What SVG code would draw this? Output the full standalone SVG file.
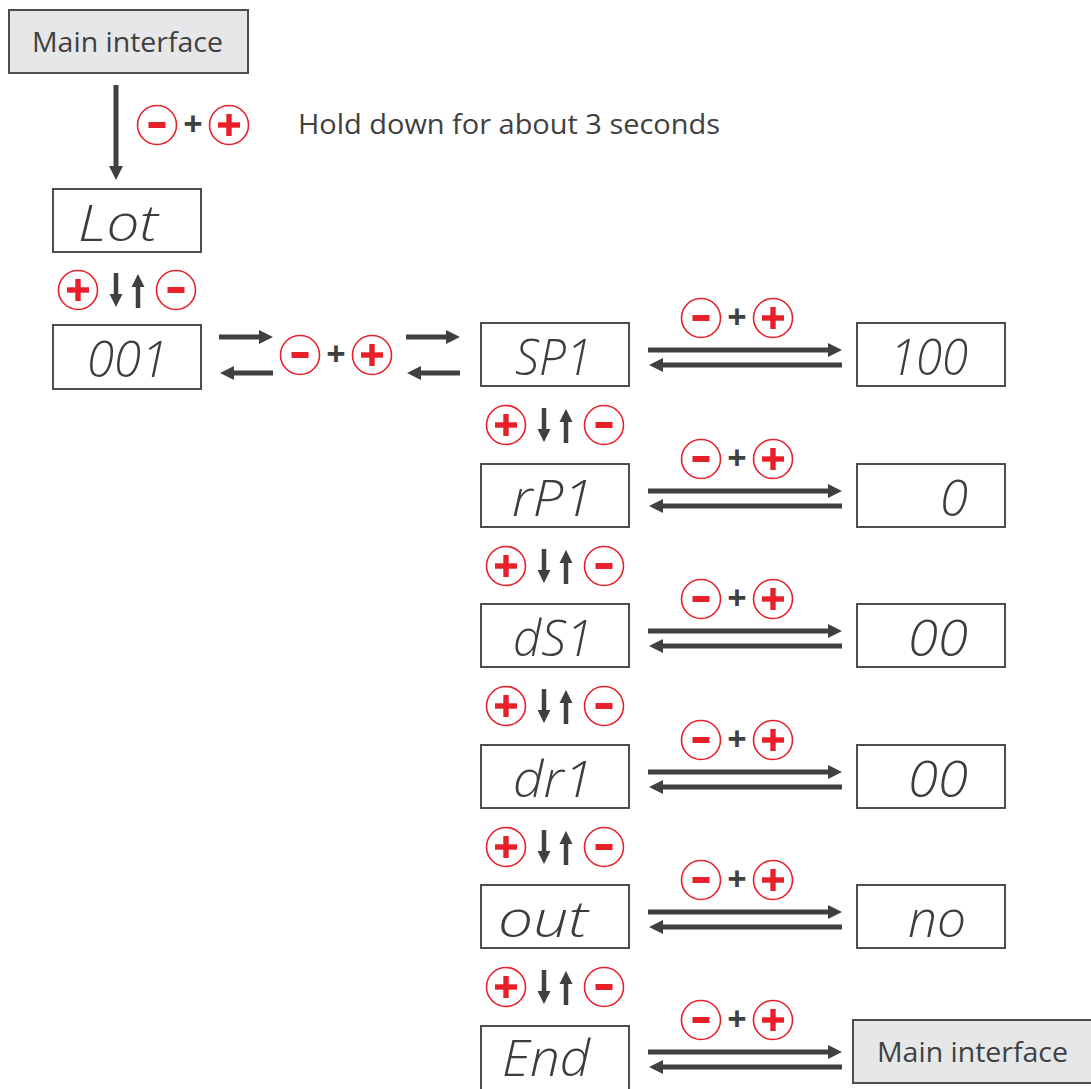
<svg xmlns="http://www.w3.org/2000/svg" xmlns:xlink="http://www.w3.org/1999/xlink" width="1091" height="1089" viewBox="0 0 1091 1089">
<style>
.main{fill:#e6e7e9;stroke:#4d4d4d;stroke-width:2}
.box{fill:#fff;stroke:#4d4d4d;stroke-width:2}
.mt{font-family:"Open Sans","Noto Sans","Liberation Sans",sans-serif;font-size:28px;fill:#404040}
.hold{font-family:"Open Sans","Noto Sans","Liberation Sans",sans-serif;font-size:27px;fill:#404040}
.seg{font-family:"Open Sans","Liberation Sans",sans-serif;font-style:italic;font-weight:300;font-size:50px;fill:#3d3d3d}
.plus{font-family:"Open Sans","Liberation Sans",sans-serif;font-weight:bold;font-size:34px;fill:#404040}
.ar{stroke:#404040;stroke-width:5;fill:none}
.ars{stroke:#404040;stroke-width:4.5;fill:none}
</style>
<defs>
<marker id="ah" viewBox="0 0 14 14" refX="1" refY="7" markerWidth="14" markerHeight="14" markerUnits="userSpaceOnUse" orient="auto">
<path d="M0,0 L14,7 L0,14 z" fill="#404040"/>
</marker>
<marker id="ahs" viewBox="0 0 14 14" refX="1" refY="7" markerWidth="13" markerHeight="14" markerUnits="userSpaceOnUse" orient="auto">
<path d="M0,0 L14,7 L0,14 z" fill="#404040"/>
</marker>
<g id="bm">
<circle r="19.5" fill="#fff" stroke="#e8202a" stroke-width="1.6"/>
<rect x="-8.5" y="-3" width="17" height="6" fill="#e8202a"/>
</g>
<g id="bp">
<circle r="19.5" fill="#fff" stroke="#e8202a" stroke-width="1.6"/>
<rect x="-11" y="-2.7" width="22" height="5.4" fill="#e8202a"/>
<rect x="-2.7" y="-11" width="5.4" height="22" fill="#e8202a"/>
</g>
<g id="combo">
<use href="#bm" x="-36" y="0"/>
<text class="plus" x="0" y="11" text-anchor="middle">+</text>
<use href="#bp" x="36" y="0"/>
</g>
<g id="updown">
<use href="#bp" x="-49" y="0"/>
<line class="ars" x1="-11" y1="-17" x2="-11" y2="5" marker-end="url(#ahs)"/>
<line class="ars" x1="11" y1="18" x2="11" y2="-4" marker-end="url(#ahs)"/>
<use href="#bm" x="49" y="0"/>
</g>
<g id="dbl">
<line class="ar" x1="648" y1="0" x2="829" y2="0" marker-end="url(#ah)"/>
<line class="ar" x1="842" y1="15" x2="662" y2="15" marker-end="url(#ah)"/>
</g>
</defs>

<g id="connectors">
<line class="ar" x1="116" y1="85" x2="116" y2="167" marker-end="url(#ah)"/>
<line class="ar" x1="219" y1="337" x2="260" y2="337" marker-end="url(#ah)"/>
<line class="ar" x1="273" y1="373" x2="233" y2="373" marker-end="url(#ah)"/>
<line class="ar" x1="406" y1="337" x2="447" y2="337" marker-end="url(#ah)"/>
<line class="ar" x1="460" y1="373" x2="420" y2="373" marker-end="url(#ah)"/>
<use href="#dbl" x="0" y="350"/>
<use href="#dbl" x="0" y="491"/>
<use href="#dbl" x="0" y="631"/>
<use href="#dbl" x="0" y="772"/>
<use href="#dbl" x="0" y="912"/>
<use href="#dbl" x="0" y="1052"/>
</g>

<g id="labels">
<use href="#combo" x="193" y="125"/>
<text class="hold" x="298" y="134" textLength="422" lengthAdjust="spacingAndGlyphs">Hold down for about 3 seconds</text>
<use href="#updown" x="127" y="290"/>
<use href="#combo" x="336" y="355"/>
<use href="#combo" x="737" y="318"/>
<use href="#combo" x="737" y="459"/>
<use href="#combo" x="737" y="599"/>
<use href="#combo" x="737" y="740"/>
<use href="#combo" x="737" y="880"/>
<use href="#combo" x="737" y="1020"/>
<use href="#updown" x="555" y="425"/>
<use href="#updown" x="555" y="566"/>
<use href="#updown" x="555" y="706"/>
<use href="#updown" x="555" y="847"/>
<use href="#updown" x="555" y="987"/>
</g>

<g id="main-top">
<rect class="main" x="9" y="10" width="239" height="63"/>
<text class="mt" x="32" y="52" textLength="191" lengthAdjust="spacingAndGlyphs">Main interface</text>
</g>
<g id="lot">
<rect class="box" x="53" y="189" width="148" height="63"/>
<text class="seg" x="78" y="241" textLength="80" lengthAdjust="spacingAndGlyphs">Lot</text>
</g>
<g id="n001">
<rect class="box" x="53" y="325" width="148" height="64"/>
<text class="seg" x="87" y="377" textLength="81" lengthAdjust="spacingAndGlyphs">001</text>
</g>

<g id="sp1">
<rect class="box" x="481" y="323" width="148" height="63"/>
<text class="seg" x="515" y="375" textLength="77" lengthAdjust="spacingAndGlyphs">SP1</text>
</g>
<g id="v100">
<rect class="box" x="857" y="323" width="148" height="63"/>
<text class="seg" x="890" y="375" textLength="78" lengthAdjust="spacingAndGlyphs">100</text>
</g>

<g id="rp1">
<rect class="box" x="481" y="464" width="148" height="63"/>
<text class="seg" x="512" y="516" textLength="81" lengthAdjust="spacingAndGlyphs">rP1</text>
</g>
<g id="v0">
<rect class="box" x="857" y="464" width="148" height="63"/>
<text class="seg" x="940" y="516" textLength="28" lengthAdjust="spacingAndGlyphs">0</text>
</g>

<g id="ds1">
<rect class="box" x="481" y="604" width="148" height="63"/>
<text class="seg" x="513" y="656" textLength="80" lengthAdjust="spacingAndGlyphs">dS1</text>
</g>
<g id="v00a">
<rect class="box" x="857" y="604" width="148" height="63"/>
<text class="seg" x="908" y="656" textLength="60" lengthAdjust="spacingAndGlyphs">00</text>
</g>

<g id="dr1">
<rect class="box" x="481" y="745" width="148" height="63"/>
<text class="seg" x="513" y="797" textLength="80" lengthAdjust="spacingAndGlyphs">dr1</text>
</g>
<g id="v00b">
<rect class="box" x="857" y="745" width="148" height="63"/>
<text class="seg" x="908" y="797" textLength="60" lengthAdjust="spacingAndGlyphs">00</text>
</g>

<g id="out">
<rect class="box" x="481" y="885" width="148" height="63"/>
<text class="seg" x="498" y="937" textLength="90" lengthAdjust="spacingAndGlyphs">out</text>
</g>
<g id="vno">
<rect class="box" x="857" y="885" width="148" height="63"/>
<text class="seg" x="908" y="937" textLength="58" lengthAdjust="spacingAndGlyphs">no</text>
</g>

<g id="end">
<rect class="box" x="481" y="1026" width="148" height="64"/>
<text class="seg" x="502" y="1076" font-size="46" textLength="88" lengthAdjust="spacingAndGlyphs">End</text>
</g>
<g id="main-bottom">
<rect class="main" x="853" y="1020" width="240" height="63"/>
<text class="mt" x="877" y="1062" textLength="191" lengthAdjust="spacingAndGlyphs">Main interface</text>
</g>
</svg>
